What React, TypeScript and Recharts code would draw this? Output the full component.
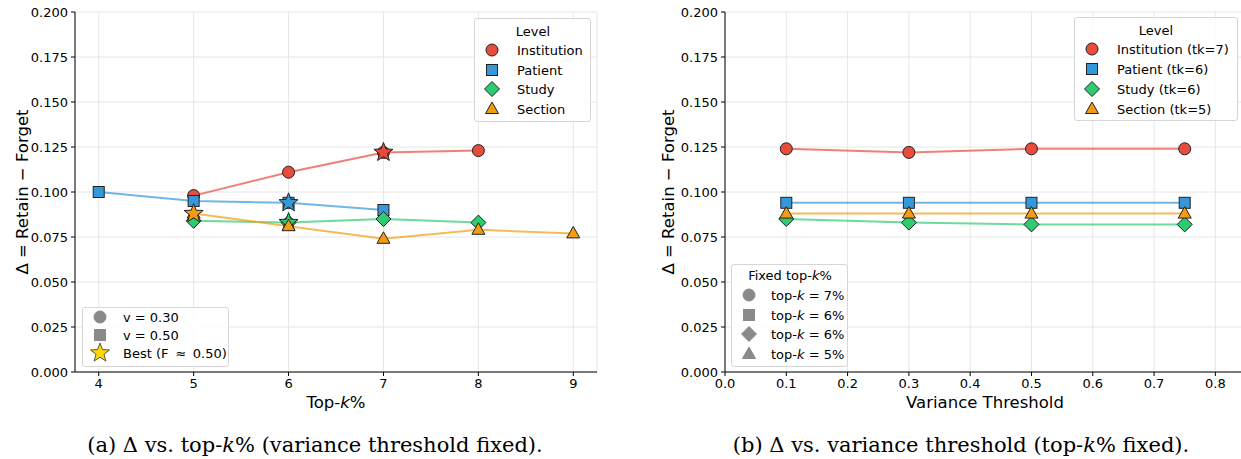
import React from 'react';
import { LineChart, Line, XAxis, YAxis, CartesianGrid } from 'recharts';

// levels and their fixed settings
const levels = ['Institution', 'Patient', 'Study', 'Section'];
const levelShapes = ['circle', 'square', 'diamond', 'triangle'] as const;
const bestTopK = [7, 6, 6, 5];
const fixedTopK = [7, 6, 6, 5];
const fixedVar = [0.3, 0.5];

// (a) delta vs top-k%
const topK = [4, 5, 6, 7, 8, 9];
const instByK = [null, 0.098, 0.111, 0.122, 0.123, null];
const patByK = [0.1, 0.095, 0.094, 0.09, null, null];
const studyByK = [null, 0.084, 0.083, 0.085, 0.083, null];
const sectByK = [null, 0.088, 0.081, 0.074, 0.079, 0.077];

// (b) delta vs variance threshold
const varThr = [0.1, 0.3, 0.5, 0.75];
const instByV = [0.124, 0.122, 0.124, 0.124];
const patByV = [0.094, 0.094, 0.094, 0.094];
const studyByV = [0.085, 0.083, 0.082, 0.082];
const sectByV = [0.088, 0.088, 0.088, 0.088];

const yTicks = [0, 0.025, 0.05, 0.075, 0.1, 0.125, 0.15, 0.175, 0.2];
const varTicks = [0, 0.1, 0.2, 0.3, 0.4, 0.5, 0.6, 0.7, 0.8];

const KEYS = ['inst', 'pat', 'study', 'sect'];
const COLORS = ['#e74c3c', '#3498db', '#2ecc71', '#f39c12'];
const GRAY = '#8a8a8a';
const GOLD = '#FFD700';

const leftRows = topK.map((k, i) => ({
  x: k, inst: instByK[i], pat: patByK[i], study: studyByK[i], sect: sectByK[i],
}));
const rightRows = varThr.map((v, i) => ({
  x: v, inst: instByV[i], pat: patByV[i], study: studyByV[i], sect: sectByV[i],
}));

type Shape = 'circle' | 'square' | 'diamond' | 'triangle' | 'star';

const starPoints = (cx: number, cy: number, R: number, r: number) =>
  Array.from({ length: 10 }, (_, i) => {
    const a = -Math.PI / 2 + (i * Math.PI) / 5;
    const rad = i % 2 === 0 ? R : r;
    return `${cx + rad * Math.cos(a)},${cy + rad * Math.sin(a)}`;
  }).join(' ');

const Marker = ({ shape, cx, cy, fill, stroke = '#222' }: { shape: Shape; cx: number; cy: number; fill: string; stroke?: string }) => {
  const sw = 1;
  if (shape === 'circle') return <circle cx={cx} cy={cy} r={6} fill={fill} stroke={stroke} strokeWidth={sw} />;
  if (shape === 'square') return <rect x={cx - 5.5} y={cy - 5.5} width={11} height={11} fill={fill} stroke={stroke} strokeWidth={sw} />;
  if (shape === 'diamond')
    return <polygon points={`${cx},${cy - 7.5} ${cx + 7.5},${cy} ${cx},${cy + 7.5} ${cx - 7.5},${cy}`} fill={fill} stroke={stroke} strokeWidth={sw} />;
  if (shape === 'triangle')
    return <polygon points={`${cx},${cy - 7} ${cx + 6.5},${cy + 4.5} ${cx - 6.5},${cy + 4.5}`} fill={fill} stroke={stroke} strokeWidth={sw} />;
  return <polygon points={starPoints(cx, cy, 10, 4.2)} fill={fill} stroke={stroke} strokeWidth={sw} />;
};

const dotFor = (shape: Shape, color: string, best?: number) => (props: any) => {
  const { cx, cy, index, value, payload } = props;
  if (cx == null || cy == null || value == null || Number.isNaN(cy)) return <g key={`d-${index}`} />;
  return (
    <g key={`d-${index}`}>
      <Marker shape={shape} cx={cx} cy={cy} fill={color} />
      {best !== undefined && payload && payload.x === best && <Marker shape="star" cx={cx} cy={cy} fill={color} />}
    </g>
  );
};

type Item = { shape: Shape; fill: string; stroke?: string; label: React.ReactNode };

const LegendBox = ({ box, title, titleX, titleY, rowYs, markerX, textX, items }: {
  box: { left: number; top: number; width: number; height: number };
  title?: React.ReactNode; titleX?: number; titleY?: number;
  rowYs: number[]; markerX: number; textX: number; items: Item[];
}) => (
  <div style={{
    position: 'absolute', left: box.left, top: box.top, width: box.width, height: box.height,
    border: '1px solid #d6d6d6', borderRadius: 3, background: 'rgba(255,255,255,0.85)', boxSizing: 'border-box',
  }}>
    {title && (
      <div style={{ position: 'absolute', left: (titleX ?? 0) - box.left, top: (titleY ?? 0) - box.top, transform: 'translate(-50%,-50%)', whiteSpace: 'nowrap' }}>
        {title}
      </div>
    )}
    {items.map((it, i) => (
      <React.Fragment key={i}>
        <svg width={24} height={24} style={{ position: 'absolute', left: markerX - box.left - 12 - 1, top: rowYs[i] - box.top - 12 - 1, overflow: 'visible' }}>
          <Marker shape={it.shape} cx={12} cy={12} fill={it.fill} stroke={it.stroke} />
        </svg>
        <div style={{ position: 'absolute', left: textX - box.left - 1, top: rowYs[i] - box.top - 1, transform: 'translateY(-50%)', whiteSpace: 'nowrap' }}>
          {it.label}
        </div>
      </React.Fragment>
    ))}
  </div>
);

const tickStyle = { fill: '#000', fontSize: 13, fontFamily: 'DejaVu Sans' };

const axesFor = (domain: number[], ticks: number[], fmt: (v: number) => string) => [
  <XAxis key="xb" dataKey="x" type="number" domain={domain} ticks={ticks} tickFormatter={fmt} allowDataOverflow
    tick={tickStyle} tickSize={4} tickMargin={3} height={48} axisLine={{ stroke: '#000' }} tickLine={{ stroke: '#000' }} />,
  <XAxis key="xt" xAxisId="top" orientation="top" type="number" domain={domain} height={0} tick={false} tickLine={false} axisLine={{ stroke: '#000' }} />,
  <YAxis key="yl" type="number" domain={[0, 0.2]} ticks={yTicks} tickFormatter={(v: number) => v.toFixed(3)}
    tick={tickStyle} tickSize={4} tickMargin={3} width={67} axisLine={{ stroke: '#000' }} tickLine={{ stroke: '#000' }} />,
  <YAxis key="yr" yAxisId="right" orientation="right" type="number" domain={[0, 0.2]} width={0} tick={false} tickLine={false} axisLine={{ stroke: '#000' }} />,
];

const seriesFor = (best?: number[]) =>
  KEYS.map((k, i) => (
    <Line key={k} dataKey={k} type="linear" stroke={COLORS[i]} strokeOpacity={0.7} strokeWidth={2}
      dot={dotFor(levelShapes[i], COLORS[i], best ? best[i] : undefined)} activeDot={false} isAnimationActive={false} />
  ));

const yLabel = 'Δ = Retain − Forget';
const captionStyle: React.CSSProperties = {
  position: 'absolute', width: 640, top: 445, transform: 'translateY(-50%)', textAlign: 'center',
  fontFamily: 'DejaVu Serif', fontSize: 21, whiteSpace: 'nowrap',
};

export default function App() {
  return (
    <div style={{ position: 'absolute', left: 0, top: 0, width: 1241, height: 459, overflow: 'hidden', background: '#fff', fontFamily: 'DejaVu Sans', fontSize: 13, color: '#000' }}>
      {/* (a) */}
      <div style={{ position: 'absolute', left: 0, top: 0 }}>
        <LineChart width={605} height={420} data={leftRows} margin={{ top: 12, right: 8, bottom: 0, left: 8 }}>
          <CartesianGrid stroke="#e6e6e6" strokeWidth={1} />
          {axesFor([3.75, 9.25], topK, (v: number) => String(v))}
          {seriesFor(bestTopK)}
        </LineChart>
      </div>
      {/* (b) */}
      <div style={{ position: 'absolute', left: 640, top: 0 }}>
        <LineChart width={614} height={420} data={rightRows} margin={{ top: 12, right: 8, bottom: 0, left: 18 }}>
          <CartesianGrid stroke="#e6e6e6" strokeWidth={1} />
          {axesFor([0, 0.85], varTicks, (v: number) => v.toFixed(1))}
          {seriesFor()}
        </LineChart>
      </div>

      {/* axis titles */}
      <div style={{ position: 'absolute', left: 22, top: 192, transform: 'translate(-50%,-50%) rotate(-90deg)', fontSize: 16.5, whiteSpace: 'nowrap' }}>{yLabel}</div>
      <div style={{ position: 'absolute', left: 668, top: 192, transform: 'translate(-50%,-50%) rotate(-90deg)', fontSize: 16.5, whiteSpace: 'nowrap' }}>{yLabel}</div>
      <div style={{ position: 'absolute', left: 336, top: 402, transform: 'translate(-50%,-50%)', fontSize: 16.5, whiteSpace: 'nowrap' }}>Top-<i>k</i>%</div>
      <div style={{ position: 'absolute', left: 985, top: 402, transform: 'translate(-50%,-50%)', fontSize: 16.5, whiteSpace: 'nowrap' }}>Variance Threshold</div>

      {/* legends (a) */}
      <LegendBox box={{ left: 474, top: 18, width: 117, height: 104 }} title="Level" titleX={532} titleY={30}
        rowYs={[50, 70, 89, 109]} markerX={492} textX={517}
        items={levels.map((l, i) => ({ shape: levelShapes[i], fill: COLORS[i], label: l }))} />
      <LegendBox box={{ left: 82, top: 307, width: 147, height: 60 }}
        rowYs={[317, 335, 353]} markerX={100} textX={123}
        items={[
          { shape: 'circle', fill: GRAY, stroke: GRAY, label: `v = ${fixedVar[0].toFixed(2)}` },
          { shape: 'square', fill: GRAY, stroke: GRAY, label: `v = ${fixedVar[1].toFixed(2)}` },
          { shape: 'star', fill: GOLD, stroke: '#555', label: 'Best (F \u2009\u2248\u2009 0.50)' },
        ]} />

      {/* legends (b) */}
      <LegendBox box={{ left: 1074, top: 17, width: 164, height: 104 }} title="Level" titleX={1155} titleY={29}
        rowYs={[49, 69, 89, 109]} markerX={1092} textX={1117}
        items={levels.map((l, i) => ({ shape: levelShapes[i], fill: COLORS[i], label: `${l} (tk=${fixedTopK[i]})` }))} />
      <LegendBox box={{ left: 731, top: 264, width: 117, height: 103 }} title={<span>Fixed top-<i>k</i>%</span>} titleX={789} titleY={274}
        rowYs={[295, 315, 334, 354]} markerX={749} textX={771}
        items={levelShapes.map((s, i) => ({ shape: s, fill: GRAY, stroke: GRAY, label: <span>top-<i>k</i> = {fixedTopK[i]}%</span> }))} />

      {/* captions */}
      <div style={{ ...captionStyle, left: 315 - 320 }}>
        (a) Δ vs. top-<i>k</i>% (variance threshold fixed).
      </div>
      <div style={{ ...captionStyle, left: 961 - 320 }}>
        (b) Δ vs. variance threshold (top-<i>k</i>% fixed).
      </div>
    </div>
  );
}
